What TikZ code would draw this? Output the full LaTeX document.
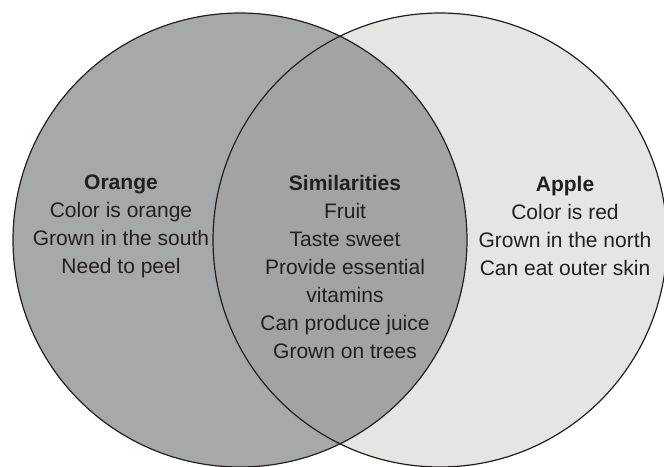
\documentclass[tikz,border=0pt]{standalone}
\usepackage{fontspec}
\setmainfont{Liberation Sans}
\usetikzlibrary{calc}
\definecolor{orangefill}{HTML}{A7A8AA}
\definecolor{bothfill}{HTML}{A3A3A3}
\definecolor{applefill}{HTML}{E5E5E4}
\definecolor{inkgray}{HTML}{231F20}
\tikzset{%
  setline/.style  = {draw=inkgray, line width=1.2pt},%
  settext/.style  = {align=center, text=inkgray, inner sep=0pt,%
                     font=\fontsize{21}{28}\selectfont}%
}

\begin{document}
\begin{tikzpicture}[x=1pt,y=-1pt]
	\useasboundingbox (0,0) rectangle (664,466);
	\coordinate (orangectr) at (240,240);
	\coordinate (applectr) at (440,240);
	% the two sets
	\fill[orangefill] (orangectr) circle (227);
	\fill[applefill] (applectr) circle (227);
	\begin{scope}
		\clip (orangectr) circle (227);
		\fill[bothfill] (applectr) circle (227);
	\end{scope}
	\draw[setline] (orangectr) circle (227);
	\draw[setline] (applectr) circle (227);
	% labels
	\node[settext] (orange) at (121,226) {\textbf{Orange}\\Color is orange\\Grown in the south\\Need to peel};
	\node[settext] (similar) at (345,267) {\textbf{Similarities}\\Fruit\\Taste sweet\\Provide essential\\vitamins\\Can produce juice\\Grown on trees};
	\node[settext] (apple) at (565,226) {\textbf{Apple}\\Color is red\\Grown in the north\\Can eat outer skin};
\end{tikzpicture}
\end{document}
